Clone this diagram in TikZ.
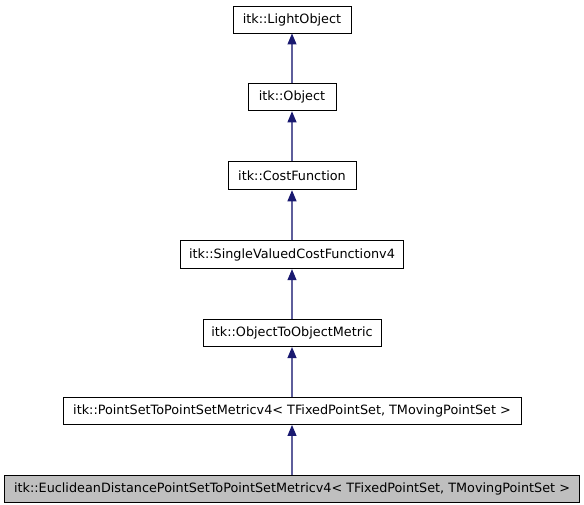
\documentclass[tikz,border=0pt]{standalone}
\usepackage{fontspec}
\setmainfont{DejaVu Sans}
\usepackage{tikz}
\usetikzlibrary{positioning,arrows.meta}
\definecolor{arrowblue}{RGB}{25,25,112}
\definecolor{boxgray}{RGB}{191,191,191}
\tikzset{
  figfont/.style={font=\fontsize{12.8pt}{15pt}\selectfont},
  classbox/.style={draw, line width=0.9pt, fill=white, inner sep=0pt, minimum height=27pt, align=center},
  classboxgray/.style={classbox, fill=boxgray},
  inheritarrow/.style={-{Triangle[length=11pt,width=9pt,color=arrowblue,fill=arrowblue]}, draw=arrowblue!70, line width=1.1pt},
}
\begin{document}
\begin{tikzpicture}[figfont, x=1pt, y=-1pt, node distance=50pt]
  \useasboundingbox (0,0) rectangle (584,504);

  % Base classes, top to bottom
  \node[classbox, minimum width=118pt] (LightObj) at (292,19.5) {itk::LightObject};
  \node[classbox, below=of LightObj, minimum width=88pt] (Obj) {itk::Object};
  \node[classbox, below=of Obj, minimum width=128pt, minimum height=28pt] (CostFn) {itk::CostFunction};
  \node[classbox, below=of CostFn, minimum width=223pt, minimum height=28pt] (SVCF) {itk::SingleValuedCostFunctionv4};
  \node[classbox, below=of SVCF, minimum width=178pt] (O2OM) {itk::ObjectToObjectMetric};
  \node[classbox, below=of O2OM, minimum width=458pt] (PS2PS)
    {itk::PointSetToPointSetMetricv4\textless{} TFixedPointSet, TMovingPointSet \textgreater};

  % Documented class
  \node[classboxgray, below=of PS2PS, minimum width=575pt] (EDPS)
    {itk::EuclideanDistancePointSetToPointSetMetricv4\textless{} TFixedPointSet, TMovingPointSet \textgreater};

  % Inheritance arrows
  \draw[inheritarrow] (Obj.north) -- (LightObj.south);
  \draw[inheritarrow] (CostFn.north) -- (Obj.south);
  \draw[inheritarrow] (SVCF.north) -- (CostFn.south);
  \draw[inheritarrow] (O2OM.north) -- (SVCF.south);
  \draw[inheritarrow] (PS2PS.north) -- (O2OM.south);
  \draw[inheritarrow] (EDPS.north) -- (PS2PS.south);
\end{tikzpicture}
\end{document}
